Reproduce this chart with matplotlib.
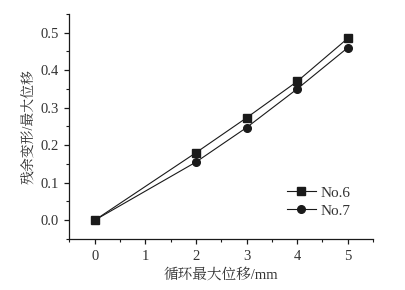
import matplotlib
matplotlib.use("Agg")
import matplotlib.pyplot as plt
from matplotlib.ticker import MultipleLocator, FormatStrFormatter

plt.rcParams['font.family'] = ['Liberation Serif', 'Noto Serif CJK SC', 'Noto Sans CJK SC']

x_vals = [0, 2, 3, 4, 5]
no6 = [0.0, 0.18, 0.273, 0.37, 0.485]
no7 = [0.0, 0.155, 0.247, 0.35, 0.46]
series_labels = ["No.6", "No.7"]
xlabel = "循环最大位移/mm"
ylabel = "残余变形/最大位移"

fig = plt.figure(figsize=(4.06, 2.90), dpi=100)
ax = fig.add_axes([0.171, 0.176, 0.748, 0.776])

txt = '#333333'
ax.plot(x_vals, no6, color='#1a1a1a', lw=0.8, marker='s', ms=5.5, label=series_labels[0], zorder=3)
ax.plot(x_vals, no7, color='#1a1a1a', lw=0.8, marker='o', ms=5.5, label=series_labels[1], zorder=3)

ax.set_xlim(-0.5, 5.5)
ax.set_ylim(-0.05, 0.55)
ax.xaxis.set_major_locator(MultipleLocator(1))
ax.xaxis.set_minor_locator(MultipleLocator(0.5))
ax.yaxis.set_major_locator(MultipleLocator(0.1))
ax.yaxis.set_minor_locator(MultipleLocator(0.05))
ax.yaxis.set_major_formatter(FormatStrFormatter('%.1f'))

for s in ['top', 'right']:
    ax.spines[s].set_visible(False)
for s in ['left', 'bottom']:
    ax.spines[s].set_linewidth(0.9)
    ax.spines[s].set_color('#1a1a1a')

ax.tick_params(which='major', direction='out', length=3.6, width=0.9, color='#1a1a1a',
               labelsize=10.5, labelcolor=txt, pad=4)
ax.tick_params(which='minor', direction='out', length=2, width=0.8, color='#1a1a1a')

ax.set_xlabel(xlabel, fontsize=10.5, color=txt, labelpad=4)
ax.set_ylabel(ylabel, fontsize=10, color=txt, labelpad=3)

leg = ax.legend(loc='upper left', bbox_to_anchor=(0.69, 0.27), frameon=False,
                fontsize=11, handlelength=1.9, handletextpad=0.3, labelspacing=0.3,
                borderpad=0)
for t in leg.get_texts():
    t.set_color(txt)

fig.savefig("out.png", dpi=100)
